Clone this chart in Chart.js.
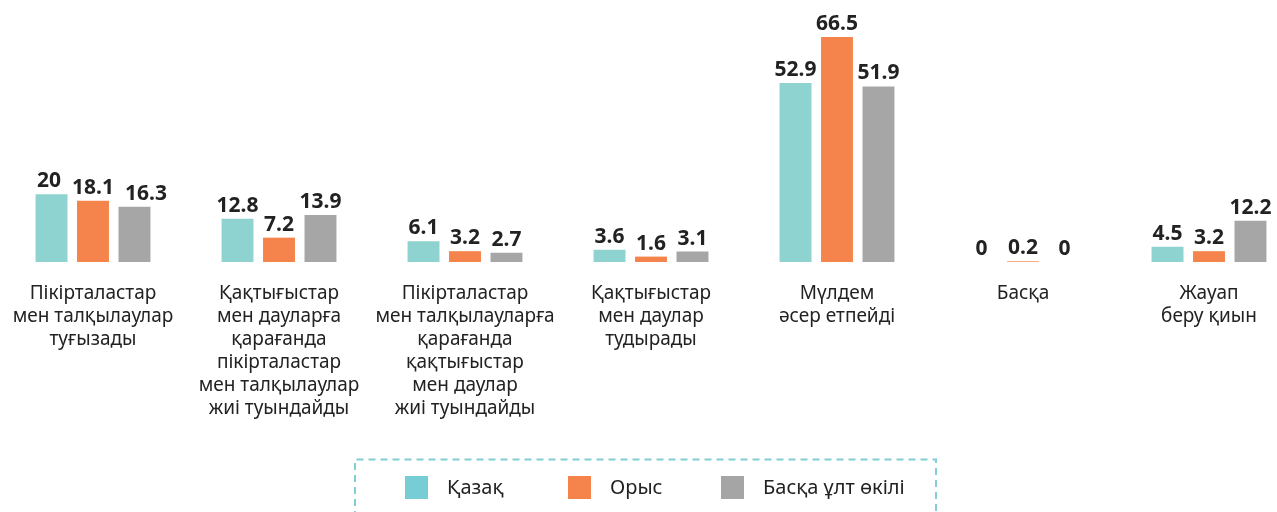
<!DOCTYPE html>
<html>
<head>
<meta charset="utf-8">
<script src="https://cdn.jsdelivr.net/npm/chart.js@4.4.1/dist/chart.umd.min.js"></script>
<style>
  html, body { margin: 0; padding: 0; background: #ffffff; overflow: hidden; width: 1277px; height: 512px; }
  #wrap { position: absolute; left: 0; top: 0; width: 1302px; height: 512px; }
  canvas { display: block; }
</style>
</head>
<body>
<div id="wrap"><canvas id="c" width="1302" height="512"></canvas></div>
<script>
const categories = [
  ["Пікірталастар", "мен талқылаулар", "туғызады"],
  ["Қақтығыстар", "мен дауларға", "қарағанда", "пікірталастар", "мен талқылаулар", "жиі туындайды"],
  ["Пікірталастар", "мен талқылауларға", "қарағанда", "қақтығыстар", "мен даулар", "жиі туындайды"],
  ["Қақтығыстар", "мен даулар", "тудырады"],
  ["Мүлдем", "әсер етпейді"],
  ["Басқа"],
  ["Жауап", "беру қиын"]
];
const seriesNames = ["Қазақ", "Орыс", "Басқа ұлт өкілі"];
const kazakh = [20, 12.8, 6.1, 3.6, 52.9, 0, 4.5];
const russian = [18.1, 7.2, 3.2, 1.6, 66.5, 0.2, 3.2];
const other = [16.3, 13.9, 2.7, 3.1, 51.9, 0, 12.2];

const barColors = ["#8ED3CF", "#F5844C", "#A6A6A6"];
const legendColors = ["#76CED4", "#F5844C", "#A5A5A5"];
const textColor = "#222222";
const FONT = "'Noto Sans', 'Open Sans', sans-serif";

// value labels above bars; outer labels are nudged sideways when they would crowd the middle one
const valueLabels = {
  id: 'valueLabels',
  afterDatasetsDraw(chart) {
    const ctx = chart.ctx;
    ctx.save();
    ctx.font = "bold 21px " + FONT;
    ctx.fillStyle = textColor;
    ctx.textAlign = 'center';
    ctx.textBaseline = 'alphabetic';
    const minGap = 11, textH = 16, lift = 7;
    const nCat = chart.data.labels.length;
    const nDs = chart.data.datasets.length;
    for (let i = 0; i < nCat; i++) {
      const items = [];
      for (let d = 0; d < nDs; d++) {
        const el = chart.getDatasetMeta(d).data[i];
        const txt = String(chart.data.datasets[d].data[i]);
        const w = ctx.measureText(txt).width;
        items.push({ txt, x: el.x, y: el.y - lift, w });
      }
      const mid = Math.floor(nDs / 2);
      for (let d = mid - 1; d >= 0; d--) {
        const a = items[d], b = items[d + 1];
        if (Math.abs(a.y - b.y) < textH) {
          const gap = (b.x - b.w / 2) - (a.x + a.w / 2);
          if (gap < minGap) a.x -= (minGap - gap);
        }
      }
      for (let d = mid + 1; d < nDs; d++) {
        const a = items[d - 1], b = items[d];
        if (Math.abs(a.y - b.y) < textH) {
          const gap = (b.x - b.w / 2) - (a.x + a.w / 2);
          if (gap < minGap) b.x += (minGap - gap);
        }
      }
      items.forEach(it => ctx.fillText(it.txt, it.x, it.y));
    }
    ctx.restore();
  }
};

const dashedLegend = {
  id: 'dashedLegend',
  afterDraw(chart) {
    const ctx = chart.ctx;
    ctx.save();
    ctx.strokeStyle = "#80CFD3";
    ctx.lineWidth = 2;
    ctx.setLineDash([7, 5]);
    ctx.beginPath();
    ctx.moveTo(355, 530);
    ctx.lineTo(355, 459.5);
    ctx.lineTo(936, 459.5);
    ctx.lineTo(936, 530);
    ctx.stroke();
    ctx.setLineDash([]);
    const boxX = [405, 568, 721];
    ctx.font = "20px " + FONT;
    ctx.textBaseline = 'middle';
    ctx.textAlign = 'left';
    seriesNames.forEach((name, i) => {
      ctx.fillStyle = legendColors[i];
      ctx.fillRect(boxX[i], 476, 23, 23);
      ctx.fillStyle = textColor;
      ctx.fillText(name, boxX[i] + 42, 488);
    });
    ctx.restore();
  }
};

new Chart(document.getElementById('c'), {
  type: 'bar',
  data: {
    labels: categories,
    datasets: [
      { label: seriesNames[0], data: kazakh, backgroundColor: barColors[0] },
      { label: seriesNames[1], data: russian, backgroundColor: barColors[1] },
      { label: seriesNames[2], data: other, backgroundColor: barColors[2] }
    ]
  },
  options: {
    responsive: false,
    animation: false,
    devicePixelRatio: 1,
    layout: { padding: 0 },
    datasets: { bar: { categoryPercentage: 0.669, barPercentage: 0.77, borderWidth: 0 } },
    plugins: { legend: { display: false }, tooltip: { enabled: false } },
    scales: {
      x: {
        grid: { display: false, drawTicks: false },
        border: { display: false },
        ticks: {
          autoSkip: false, maxRotation: 0, minRotation: 0, padding: 20,
          color: textColor,
          font: { family: FONT, size: 19, lineHeight: 23 / 19 }
        },
        afterFit(scale) {
          scale.height = 250;
          scale.paddingLeft = 0;
          scale.paddingRight = 0;
        }
      },
      y: {
        display: false,
        min: 0,
        max: 77.44
      }
    }
  },
  plugins: [valueLabels, dashedLegend]
});
</script>
</body>
</html>
